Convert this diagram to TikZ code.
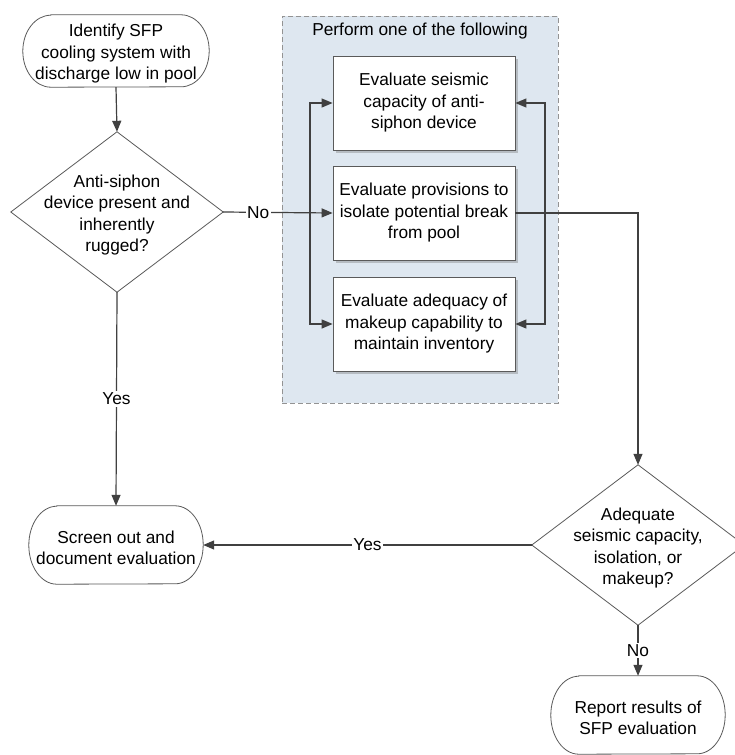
\documentclass[tikz,border=0pt]{standalone}
\usepackage{fontspec}
\setmainfont{Liberation Sans}
\usetikzlibrary{arrows.meta,shadows,calc}
\definecolor{ln}{HTML}{404040}
\definecolor{bd}{HTML}{5A5A5A}
\definecolor{grp}{HTML}{DEE7F0}
\definecolor{shd}{HTML}{B6BCC2}
\newcommand\myterm[6]{%
  \node[minimum width=#4pt, minimum height=#5pt] (#1) at (#2,#3) {};
  \node (#1t) at ($(#1.center)+(0,3)$) {#6};
  \draw[bd, line width=0.8pt] ([xshift=28pt]#1.north west) -- ([xshift=-28pt]#1.north east)
    arc[start angle=90, end angle=-90, x radius=28pt, y radius=#5pt/2]
    -- ([xshift=28pt]#1.south west)
    arc[start angle=270, end angle=90, x radius=28pt, y radius=#5pt/2] -- cycle;
}
\begin{document}
\begin{tikzpicture}[x=1pt,y=-1pt,
  every node/.style={font=\fontsize{17.3}{21.5}\selectfont, align=center, inner sep=0pt},
  proc/.style={draw=bd, line width=0.8pt, fill=white, minimum width=182pt, minimum height=94pt,
    drop shadow={shadow xshift=3pt, shadow yshift=-3pt, fill=shd, opacity=1}},
  arr/.style={draw=ln, line width=1.2pt, -{Triangle[length=11pt,width=9pt]}},
  lbl/.style={fill=white, inner sep=1.5pt},
  dshape/.style={minimum width=212pt, minimum height=160pt}
]
\clip (0,0) rectangle (735,755);
\fill[white] (0,0) rectangle (735,755);

% group container
\node[draw=gray!85, line width=0.8pt, dash pattern=on 5pt off 3pt, fill=grp,
  minimum width=276pt, minimum height=387pt, anchor=north west] (grp) at (282,16) {};
\node (title) at (420,31) {Perform one of the following};

% process boxes
\node[proc] (b1) at (424,103) {Evaluate seismic\\capacity of anti-\\siphon device};
\node[proc] (b2) at (424,213) {Evaluate provisions to\\isolate potential break\\from pool};
\node[proc] (b3) at (424,324) {Evaluate adequacy of\\makeup capability to\\maintain inventory};

% terminals
\myterm{t1}{116}{51}{186}{72}{Identify SFP\\cooling system with\\discharge low in pool}
\myterm{t3}{116}{545}{174}{78}{Screen out and\\document evaluation}
\myterm{t2}{638}{715}{174}{78}{Report results of\\SFP evaluation}

% decisions
\node[dshape] (d1) at (117,212) {};
\draw[bd, line width=0.8pt] (d1.north) -- (d1.east) -- (d1.south) -- (d1.west) -- cycle;
\node (d1t) at (117,215) {Anti-siphon\\device present and\\inherently\\rugged?};

\node[dshape] (d2) at (638,545) {};
\draw[bd, line width=0.8pt] (d2.north) -- (d2.east) -- (d2.south) -- (d2.west) -- cycle;
\node (d2t) at (638,548) {Adequate\\seismic capacity,\\isolation, or\\makeup?};

% junctions
\coordinate (jl) at (310,213);
\coordinate (jr) at (545,213);

% connectors
\draw[arr] (t1.south) -- (d1.north);
\draw[arr] (d1.east) -- node[lbl, pos=0.32] (lno) {No} (b2.west);
\draw[arr] (jl) |- (b1.west);
\draw[arr] (jl) |- (b3.west);
\draw[arr] (b2.east) -| (d2.north);
\draw[arr] (jr) |- (b1.east);
\draw[arr] (jr) |- (b3.east);
\draw[arr] (d1.south) -- node[lbl] (lyes1) {Yes} (t3.north);
\draw[arr] (d2.west) -- node[lbl] (lyes2) {Yes} (t3.east);
\draw[arr] (d2.south) -- node[lbl] (lno2) {No} (t2.north);
\end{tikzpicture}
\end{document}
